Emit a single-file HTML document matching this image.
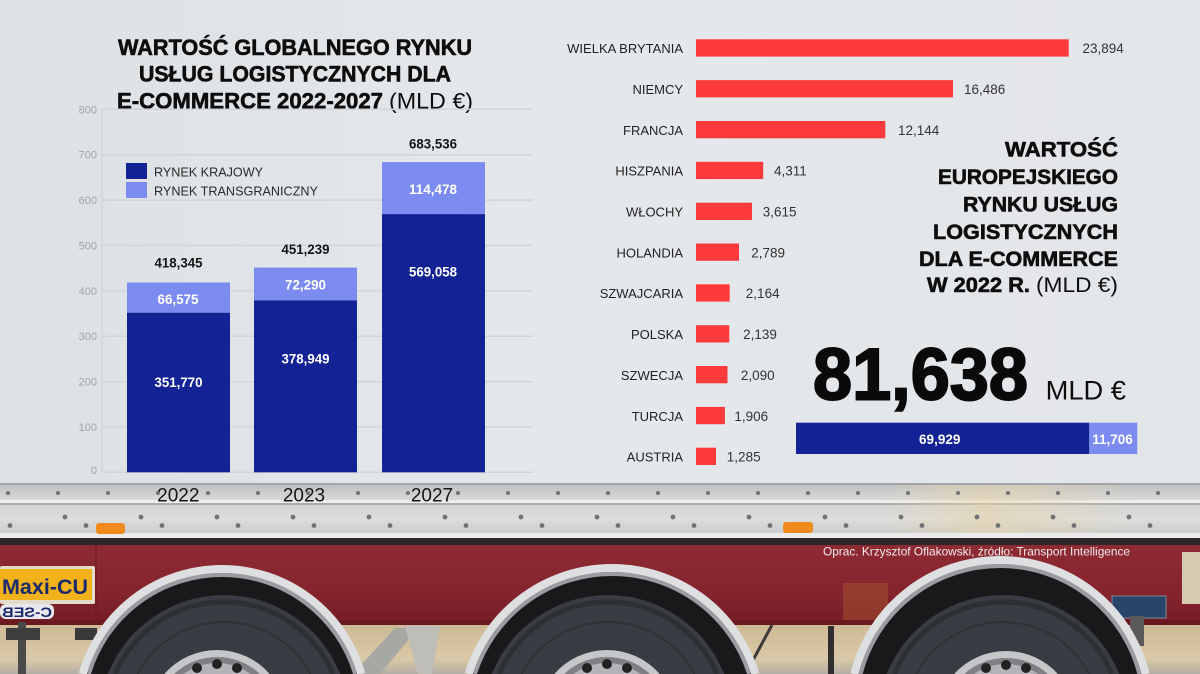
<!DOCTYPE html>
<html><head><meta charset="utf-8"><style>html,body{margin:0;padding:0;background:#e4e7ea;width:1200px;height:674px;overflow:hidden}svg{display:block}</style></head>
<body>
<svg width="1200" height="674" viewBox="0 0 1200 674" xmlns="http://www.w3.org/2000/svg" font-family="'Liberation Sans', sans-serif" overflow="hidden">
<defs>
 <clipPath id="frame"><rect x="0" y="0" width="1200" height="674"/></clipPath>
 <linearGradient id="bg" x1="0" y1="0" x2="1" y2="0">
  <stop offset="0" stop-color="#dde1e4"/><stop offset="0.45" stop-color="#e5e8eb"/><stop offset="1" stop-color="#e3e6e9"/>
 </linearGradient>
 <linearGradient id="r1" x1="0" y1="0" x2="0" y2="1">
  <stop offset="0" stop-color="#bfc1c3"/><stop offset="1" stop-color="#d8d9da"/>
 </linearGradient>
 <linearGradient id="r2" x1="0" y1="0" x2="0" y2="1">
  <stop offset="0" stop-color="#d3d4d5"/><stop offset="0.5" stop-color="#dcdddd"/><stop offset="1" stop-color="#cbcccd"/>
 </linearGradient>
 <linearGradient id="warm" x1="0" y1="0" x2="1" y2="0">
  <stop offset="0" stop-color="#e9d6a8" stop-opacity="0"/><stop offset="0.4" stop-color="#e9d6a8" stop-opacity="0.55"/><stop offset="1" stop-color="#e9d6a8" stop-opacity="0"/>
 </linearGradient>
 <linearGradient id="ch" x1="0" y1="0" x2="0" y2="1">
  <stop offset="0" stop-color="#8e2a33"/><stop offset="0.6" stop-color="#85242d"/><stop offset="1" stop-color="#741c25"/>
 </linearGradient>
 <linearGradient id="gr" x1="0" y1="0" x2="0" y2="1">
  <stop offset="0" stop-color="#cdb995"/><stop offset="0.7" stop-color="#d9c8a7"/><stop offset="1" stop-color="#b3aea4"/>
 </linearGradient>
</defs>
<g clip-path="url(#frame)">
<!-- trailer panel -->
<rect x="0" y="0" width="1200" height="483" fill="url(#bg)"/>

<!-- rails -->
<rect x="0" y="483" width="1200" height="2" fill="#a2a6aa"/>
<rect x="0" y="485" width="1200" height="15" fill="url(#r1)"/>
<rect x="0" y="500" width="1200" height="3" fill="#eeeeee"/>
<rect x="0" y="503" width="1200" height="2" fill="#a9abad"/>
<rect x="0" y="505" width="1200" height="28" fill="url(#r2)"/>
<rect x="880" y="485" width="260" height="48" fill="url(#warm)"/>
<rect x="0" y="533" width="1200" height="5" fill="#ebebeb"/>
<rect x="0" y="538" width="1200" height="7" fill="#2e2628"/>

<!-- rivets -->
<g fill="#707275">
 <circle cx="8" cy="493" r="2"/><circle cx="58" cy="493" r="2"/><circle cx="108" cy="493" r="2"/><circle cx="158" cy="493" r="2"/><circle cx="208" cy="493" r="2"/><circle cx="258" cy="493" r="2"/><circle cx="308" cy="493" r="2"/><circle cx="358" cy="493" r="2"/><circle cx="408" cy="493" r="2"/><circle cx="458" cy="493" r="2"/><circle cx="508" cy="493" r="2"/><circle cx="558" cy="493" r="2"/><circle cx="608" cy="493" r="2"/><circle cx="658" cy="493" r="2"/><circle cx="708" cy="493" r="2"/><circle cx="758" cy="493" r="2"/><circle cx="808" cy="493" r="2"/><circle cx="858" cy="493" r="2"/><circle cx="908" cy="493" r="2"/><circle cx="958" cy="493" r="2"/><circle cx="1008" cy="493" r="2"/><circle cx="1058" cy="493" r="2"/><circle cx="1108" cy="493" r="2"/><circle cx="1158" cy="493" r="2"/>
 <circle cx="65" cy="517" r="2.4"/><circle cx="141" cy="517" r="2.4"/><circle cx="217" cy="517" r="2.4"/><circle cx="293" cy="517" r="2.4"/><circle cx="369" cy="517" r="2.4"/><circle cx="445" cy="517" r="2.4"/><circle cx="521" cy="517" r="2.4"/><circle cx="597" cy="517" r="2.4"/><circle cx="673" cy="517" r="2.4"/><circle cx="749" cy="517" r="2.4"/><circle cx="825" cy="517" r="2.4"/><circle cx="901" cy="517" r="2.4"/><circle cx="977" cy="517" r="2.4"/><circle cx="1053" cy="517" r="2.4"/><circle cx="1129" cy="517" r="2.4"/>
 <circle cx="10" cy="525.5" r="2.4"/><circle cx="86" cy="525.5" r="2.4"/><circle cx="162" cy="525.5" r="2.4"/><circle cx="238" cy="525.5" r="2.4"/><circle cx="314" cy="525.5" r="2.4"/><circle cx="390" cy="525.5" r="2.4"/><circle cx="466" cy="525.5" r="2.4"/><circle cx="542" cy="525.5" r="2.4"/><circle cx="618" cy="525.5" r="2.4"/><circle cx="694" cy="525.5" r="2.4"/><circle cx="770" cy="525.5" r="2.4"/><circle cx="846" cy="525.5" r="2.4"/><circle cx="922" cy="525.5" r="2.4"/><circle cx="998" cy="525.5" r="2.4"/><circle cx="1074" cy="525.5" r="2.4"/><circle cx="1150" cy="525.5" r="2.4"/>
</g>
<!-- reflectors -->
<rect x="96" y="523" width="29" height="11" rx="3" fill="#f08a1c"/>
<rect x="783" y="522" width="30" height="11" rx="3" fill="#f08a1c"/>

<!-- chassis & ground -->
<rect x="0" y="625" width="1200" height="49" fill="url(#gr)"/>
<rect x="0" y="545" width="1200" height="80" fill="url(#ch)"/>
<rect x="0" y="620" width="1200" height="5" fill="#6a1920"/>
<rect x="95" y="545" width="2" height="75" fill="#6e1c24" opacity="0.7"/>
<rect x="843" y="583" width="45" height="37" fill="#a85a2e" opacity="0.45"/>
<rect x="1182" y="552" width="18" height="52" fill="#d6cbb0"/>

<!-- under-chassis parts -->
<rect x="18" y="622" width="8" height="52" fill="#4b4a4a"/>
<rect x="6" y="628" width="34" height="12" fill="#3e3d3d"/>
<rect x="75" y="628" width="22" height="12" fill="#3a3838"/>
<polygon points="362,664 395,628 410,628 410,638 380,674 362,674" fill="#a7a7a4"/>
<polygon points="405,626 440,626 432,674 418,674" fill="#bebdb8"/>
<line x1="772" y1="625" x2="752" y2="662" stroke="#3a3a3a" stroke-width="3"/>
<rect x="828" y="626" width="6" height="48" fill="#2f2d2d"/>
<rect x="1112" y="596" width="54" height="22" fill="#27466a" stroke="#7c8c9c" stroke-width="1"/>
<rect x="1130" y="616" width="14" height="30" fill="#5a5858"/>

<!-- Maxi sign -->
<rect x="0" y="566" width="95" height="38" rx="2" fill="#e3dccb"/>
<rect x="0" y="569" width="92" height="31" fill="#f1b21b"/>
<text x="2" y="594" font-size="21" font-weight="700" fill="#1b2a6b" textLength="86" lengthAdjust="spacingAndGlyphs">Maxi-CU</text>
<rect x="0" y="604" width="54" height="15" rx="6" fill="#e8e8ee"/>
<text transform="scale(-1,1)" x="-52" y="617" font-size="14" font-weight="700" fill="#1b2a6b" textLength="50" lengthAdjust="spacingAndGlyphs">C-SEB</text>

<!-- wheel 1 -->
<g>
 <path d="M85.75 674 A142 142 0 0 1 358.25 674 Z" fill="#19181a"/>
 <path d="M107.77 674 A125 125 0 0 1 340.23 674 Z" fill="#393c42"/>
 <path d="M115.34 674 A118 118 0 0 1 332.66 674" fill="none" stroke="#2d2f34" stroke-width="5"/>
 <path d="M137.47 674 A98 98 0 0 1 310.53 674" fill="none" stroke="#303237" stroke-width="2"/>
 <path d="M164.24 674 A70 70 0 0 1 269.76 674 Z" fill="#c6c7c9"/>
 <path d="M173.95 674 A63 63 0 0 1 260.05 674 Z" fill="#7e8084"/>
 <path d="M183.34 674 A57 57 0 0 1 250.66 674 Z" fill="#b3b4b7"/>
 <circle cx="197" cy="668" r="5" fill="#222"/><circle cx="217" cy="664" r="5" fill="#222"/><circle cx="237" cy="668" r="5" fill="#222"/>
 <path d="M88.88 674 A139 139 0 0 1 355.12 674" fill="none" stroke="#9a9ca0" stroke-width="4"/>
 <path d="M82.63 674 A145 145 0 0 1 361.37 674" fill="none" stroke="#dedfe1" stroke-width="8"/>
</g>
<!-- wheel 2 -->
<g>
 <path d="M471.74 674 A147 147 0 0 1 752.26 674 Z" fill="#19181a"/>
 <path d="M491.77 674 A125 125 0 0 1 724.23 674 Z" fill="#393c42"/>
 <path d="M499.34 674 A118 118 0 0 1 716.66 674" fill="none" stroke="#2d2f34" stroke-width="5"/>
 <path d="M521.47 674 A98 98 0 0 1 694.53 674" fill="none" stroke="#303237" stroke-width="2"/>
 <path d="M554.24 674 A70 70 0 0 1 659.76 674 Z" fill="#c6c7c9"/>
 <path d="M563.95 674 A63 63 0 0 1 650.05 674 Z" fill="#7e8084"/>
 <path d="M573.34 674 A57 57 0 0 1 640.66 674 Z" fill="#b3b4b7"/>
 <circle cx="587" cy="668" r="5" fill="#222"/><circle cx="607" cy="664" r="5" fill="#222"/><circle cx="627" cy="668" r="5" fill="#222"/>
 <path d="M474.89 674 A144 144 0 0 1 749.11 674" fill="none" stroke="#9a9ca0" stroke-width="4"/>
 <path d="M468.6 674 A150 150 0 0 1 755.4 674" fill="none" stroke="#dedfe1" stroke-width="8"/>
</g>
<!-- wheel 3 -->
<g>
 <path d="M857.48 674 A147 147 0 0 1 1142.52 674 Z" fill="#19181a"/>
 <path d="M886.77 674 A125 125 0 0 1 1119.23 674 Z" fill="#393c42"/>
 <path d="M894.34 674 A118 118 0 0 1 1111.66 674" fill="none" stroke="#2d2f34" stroke-width="5"/>
 <path d="M916.47 674 A98 98 0 0 1 1089.53 674" fill="none" stroke="#303237" stroke-width="2"/>
 <path d="M954.13 674 A70 70 0 0 1 1057.87 674 Z" fill="#c6c7c9"/>
 <path d="M964.05 674 A63 63 0 0 1 1047.95 674 Z" fill="#7e8084"/>
 <path d="M973.75 674 A57 57 0 0 1 1038.25 674 Z" fill="#b3b4b7"/>
 <circle cx="986" cy="668" r="5" fill="#222"/><circle cx="1006" cy="665" r="5" fill="#222"/><circle cx="1026" cy="668" r="5" fill="#222"/>
 <path d="M860.57 674 A144 144 0 0 1 1139.43 674" fill="none" stroke="#9a9ca0" stroke-width="4"/>
 <path d="M854.38 674 A150 150 0 0 1 1145.62 674" fill="none" stroke="#dedfe1" stroke-width="8"/>
</g>

<!-- source -->
<text x="823" y="555.5" font-size="12" fill="#f2eaea" textLength="307" lengthAdjust="spacingAndGlyphs">Oprac. Krzysztof Oflakowski, źródło: Transport Intelligence</text>

<!-- LEFT CHART -->
<g font-weight="700" font-size="22" fill="#0d0d0d">
 <text x="118" y="55" textLength="354" lengthAdjust="spacingAndGlyphs" stroke="#0d0d0d" stroke-width="0.6">WARTOŚĆ GLOBALNEGO RYNKU</text>
 <text x="139" y="81.7" textLength="312" lengthAdjust="spacingAndGlyphs" stroke="#0d0d0d" stroke-width="0.6">USŁUG LOGISTYCZNYCH DLA</text>
 <text x="117" y="108.4" textLength="266" lengthAdjust="spacingAndGlyphs" stroke="#0d0d0d" stroke-width="0.6">E-COMMERCE 2022-2027</text>
 <text x="389" y="108.4" font-weight="400" textLength="84" lengthAdjust="spacingAndGlyphs">(MLD €)</text>
</g>

<g stroke="#d1d5d9" stroke-width="1.5">
 <line x1="102" y1="109.3" x2="102" y2="472.3"/>
 <line x1="102" y1="109.3" x2="533" y2="109.3"/>
 <line x1="102" y1="154.7" x2="533" y2="154.7"/>
 <line x1="102" y1="200.1" x2="533" y2="200.1"/>
 <line x1="102" y1="245.4" x2="533" y2="245.4"/>
 <line x1="102" y1="290.8" x2="533" y2="290.8"/>
 <line x1="102" y1="336.2" x2="533" y2="336.2"/>
 <line x1="102" y1="381.6" x2="533" y2="381.6"/>
 <line x1="102" y1="426.9" x2="533" y2="426.9"/>
 <line x1="102" y1="472.3" x2="533" y2="472.3"/>
</g>
<g font-size="11" fill="#a0a4a8" text-anchor="end">
 <text x="97" y="113.3">800</text>
 <text x="97" y="158.7">700</text>
 <text x="97" y="204.1">600</text>
 <text x="97" y="249.4">500</text>
 <text x="97" y="294.8">400</text>
 <text x="97" y="340.2">300</text>
 <text x="97" y="385.6">200</text>
 <text x="97" y="430.9">100</text>
 <text x="97" y="474">0</text>
</g>

<!-- legend -->
<rect x="126" y="163" width="21" height="16" fill="#132395"/>
<rect x="126" y="182" width="21" height="16" fill="#7b8bef"/>
<text x="154" y="176.7" font-size="13" fill="#2a2a2a" textLength="109" lengthAdjust="spacingAndGlyphs">RYNEK KRAJOWY</text>
<text x="154" y="195.7" font-size="13" fill="#2a2a2a" textLength="164" lengthAdjust="spacingAndGlyphs">RYNEK TRANSGRANICZNY</text>

<!-- bars -->
<rect x="127" y="282.5" width="103" height="30.2" fill="#7b8bef"/>
<rect x="127" y="312.7" width="103" height="159.6" fill="#132395"/>
<rect x="254" y="267.6" width="103" height="32.8" fill="#7b8bef"/>
<rect x="254" y="300.4" width="103" height="171.9" fill="#132395"/>
<rect x="382" y="162.1" width="103" height="52" fill="#7b8bef"/>
<rect x="382" y="214.1" width="103" height="258.2" fill="#132395"/>

<g font-size="13.5" font-weight="700" text-anchor="middle">
 <text x="178.5" y="267.5" fill="#151515" textLength="48" lengthAdjust="spacingAndGlyphs">418,345</text>
 <text x="305.5" y="254" fill="#151515" textLength="48" lengthAdjust="spacingAndGlyphs">451,239</text>
 <text x="433" y="148.3" fill="#151515" textLength="48" lengthAdjust="spacingAndGlyphs">683,536</text>
 <text x="178" y="304" fill="#ffffff" textLength="41" lengthAdjust="spacingAndGlyphs">66,575</text>
 <text x="178.5" y="387" fill="#ffffff" textLength="48" lengthAdjust="spacingAndGlyphs">351,770</text>
 <text x="305.5" y="289.5" fill="#ffffff" textLength="41" lengthAdjust="spacingAndGlyphs">72,290</text>
 <text x="305.5" y="363.3" fill="#ffffff" textLength="48" lengthAdjust="spacingAndGlyphs">378,949</text>
 <text x="433" y="194" fill="#ffffff" textLength="48" lengthAdjust="spacingAndGlyphs">114,478</text>
 <text x="433" y="276.3" fill="#ffffff" textLength="48" lengthAdjust="spacingAndGlyphs">569,058</text>
</g>

<g font-size="19" fill="#151515" text-anchor="middle">
 <text x="178.3" y="501.7">2022</text>
 <text x="304" y="501.7">2023</text>
 <text x="432" y="501.7">2027</text>
</g>

<!-- RIGHT CHART -->
<g fill="#fd3a3c">
 <rect x="696" y="39.3" width="372.7" height="17.3"/>
 <rect x="696" y="80.1" width="257" height="17.3"/>
 <rect x="696" y="121" width="189.3" height="17.3"/>
 <rect x="696" y="161.8" width="67.2" height="17.3"/>
 <rect x="696" y="202.7" width="56" height="17.3"/>
 <rect x="696" y="243.5" width="43" height="17.3"/>
 <rect x="696" y="284.3" width="33.7" height="17.3"/>
 <rect x="696" y="325.2" width="33.3" height="17.3"/>
 <rect x="696" y="366" width="31.5" height="17.3"/>
 <rect x="696" y="406.9" width="28.9" height="17.3"/>
 <rect x="696" y="447.7" width="20" height="17.3"/>
</g>
<g font-size="13" fill="#222" text-anchor="end">
 <text x="683" y="53.2">WIELKA BRYTANIA</text>
 <text x="683" y="94">NIEMCY</text>
 <text x="683" y="134.9">FRANCJA</text>
 <text x="683" y="175.7">HISZPANIA</text>
 <text x="683" y="216.6">WŁOCHY</text>
 <text x="683" y="257.4">HOLANDIA</text>
 <text x="683" y="298.2">SZWAJCARIA</text>
 <text x="683" y="339.1">POLSKA</text>
 <text x="683" y="379.9">SZWECJA</text>
 <text x="683" y="420.8">TURCJA</text>
 <text x="683" y="461.6">AUSTRIA</text>
</g>
<g font-size="13.5" fill="#333">
 <text x="1082.5" y="53.2">23,894</text>
 <text x="964" y="94">16,486</text>
 <text x="898" y="134.9">12,144</text>
 <text x="774" y="175.7">4,311</text>
 <text x="762.7" y="216.6">3,615</text>
 <text x="751.2" y="257.4">2,789</text>
 <text x="745.8" y="298.2">2,164</text>
 <text x="743.1" y="339.1">2,139</text>
 <text x="740.9" y="379.9">2,090</text>
 <text x="734.4" y="420.8">1,906</text>
 <text x="726.8" y="461.6">1,285</text>
</g>

<g font-size="21" font-weight="700" fill="#0d0d0d" text-anchor="end" stroke="#0d0d0d" stroke-width="0.6">
 <text x="1118" y="156.7" textLength="113" lengthAdjust="spacingAndGlyphs">WARTOŚĆ</text>
 <text x="1118" y="184" textLength="180" lengthAdjust="spacingAndGlyphs">EUROPEJSKIEGO</text>
 <text x="1118" y="211.7" textLength="155" lengthAdjust="spacingAndGlyphs">RYNKU USŁUG</text>
 <text x="1118" y="239" textLength="185" lengthAdjust="spacingAndGlyphs">LOGISTYCZNYCH</text>
 <text x="1118" y="266" textLength="199" lengthAdjust="spacingAndGlyphs">DLA E-COMMERCE</text>
</g>
<text x="927" y="292" font-size="21" font-weight="700" fill="#0d0d0d" stroke="#0d0d0d" stroke-width="0.6" textLength="103" lengthAdjust="spacingAndGlyphs">W 2022 R.</text>
<text x="1036" y="292" font-size="21" fill="#0d0d0d" textLength="82" lengthAdjust="spacingAndGlyphs">(MLD €)</text>

<text x="813" y="399.5" font-size="73" font-weight="700" fill="#0a0a0a" stroke="#0a0a0a" stroke-width="2" textLength="215" lengthAdjust="spacingAndGlyphs">81,638</text>
<text x="1045.6" y="399.3" font-size="27" fill="#0d0d0d" textLength="80.4" lengthAdjust="spacingAndGlyphs">MLD €</text>

<rect x="796" y="422.7" width="293.3" height="31.3" fill="#132395"/>
<rect x="1089.3" y="422.7" width="48" height="31.3" fill="#7b8bef"/>
<text x="939.7" y="444" font-size="13.5" font-weight="700" fill="#fff" text-anchor="middle">69,929</text>
<text x="1112.5" y="444" font-size="13.5" font-weight="700" fill="#fff" text-anchor="middle">11,706</text>
</g>
</svg>
</body></html>
